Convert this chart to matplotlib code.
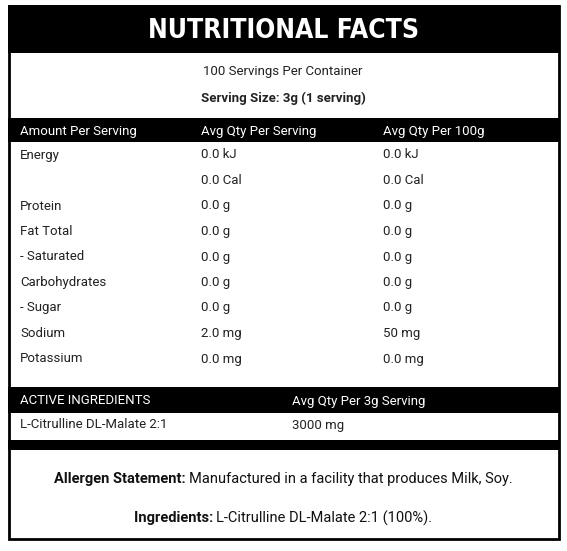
import matplotlib
matplotlib.use("Agg")
import matplotlib.pyplot as plt
from matplotlib.patches import Rectangle

title = "NUTRITIONAL FACTS"
servings = "100 Servings Per Container"
serving_size = "Serving Size: 3g (1 serving)"
headers = ["Amount Per Serving", "Avg Qty Per Serving", "Avg Qty Per 100g"]
nutrients = ["Energy", "", "Protein", "Fat Total", "- Saturated", "Carbohydrates", "- Sugar", "Sodium", "Potassium"]
per_serving = ["0.0 kJ", "0.0 Cal", "0.0 g", "0.0 g", "0.0 g", "0.0 g", "0.0 g", "2.0 mg", "0.0 mg"]
per_100g = ["0.0 kJ", "0.0 Cal", "0.0 g", "0.0 g", "0.0 g", "0.0 g", "0.0 g", "50 mg", "0.0 mg"]
active_headers = ["ACTIVE INGREDIENTS", "Avg Qty Per 3g Serving"]
active_names = ["L-Citrulline DL-Malate 2:1"]
active_qty = ["3000 mg"]

W, H = 567, 551
fig = plt.figure(figsize=(W/100, H/100), dpi=100)
ax = fig.add_axes([0, 0, 1, 1])
ax.set_xlim(0, W); ax.set_ylim(H, 0); ax.axis("off")
F = "Roboto"
fs = 9.5

def rect(x0, y0, x1, y1, c="black", fill=True, lw=0):
    ax.add_patch(Rectangle((x0, y0), x1-x0, y1-y0, facecolor=c if fill else "none",
                           edgecolor="black", lw=lw))

# outer border
rect(9, 6, 559, 539, fill=False, lw=2)
rect(8, 5, 560, 53)
ax.text(284, 31, title, color="white", ha="center", va="center", fontsize=19,
        fontweight="heavy", family="DejaVu Sans", fontstretch="condensed")
ax.text(283, 72, servings, ha="center", va="center", fontsize=fs, family=F, color="#222")
ax.text(283, 98, serving_size, ha="center", va="center", fontsize=fs, family=F, fontweight="bold", color="#222")
rect(8, 118, 560, 142)
cols = [20, 201, 383]
for x, h in zip(cols, headers):
    ax.text(x, 131, h, color="white", va="center", fontsize=fs, family=F)
for i, (n, a, b) in enumerate(zip(nutrients, per_serving, per_100g)):
    y = 155 + i*25.5
    for x, t in zip(cols, (n, a, b)):
        ax.text(x, y, t, va="center", fontsize=fs, family=F, color="#222")
rect(8, 387, 560, 413)
ax.text(20, 401, active_headers[0], color="white", va="center", fontsize=fs, family=F)
ax.text(292, 401, active_headers[1], color="white", va="center", fontsize=fs, family=F)
for i, (n, q) in enumerate(zip(active_names, active_qty)):
    y = 425 + i*25
    ax.text(20, y, n, va="center", fontsize=fs, family=F, color="#222")
    ax.text(292, y, q, va="center", fontsize=fs, family=F, color="#222")
rect(8, 440, 560, 450)
ax.annotate("Allergen Statement: ", (282, 479), ha="right", va="center", fontsize=10.5,
            family=F, fontweight="bold", color="#111", xycoords="data")
ax.text(0, 0, "", fontsize=1)
# combined lines
from matplotlib.offsetbox import TextArea, HPacker, AnchoredOffsetbox
def line(bold, normal, y):
    box = HPacker(children=[TextArea(bold, textprops=dict(fontsize=10.5, family=F, fontweight="bold", color="#111")),
                            TextArea(normal, textprops=dict(fontsize=10.5, family=F, color="#111"))],
                  align="baseline", pad=0, sep=0)
    from matplotlib.offsetbox import AnnotationBbox
    ab = AnnotationBbox(box, (283, y), frameon=False, box_alignment=(0.5, 0.5), pad=0)
    ax.add_artist(ab)
ax.texts[-2].remove()
line("Allergen Statement: ", "Manufactured in a facility that produces Milk, Soy.", 479)
line("Ingredients: ", "L-Citrulline DL-Malate 2:1 (100%).", 518)
fig.savefig("out.png", dpi=100)
